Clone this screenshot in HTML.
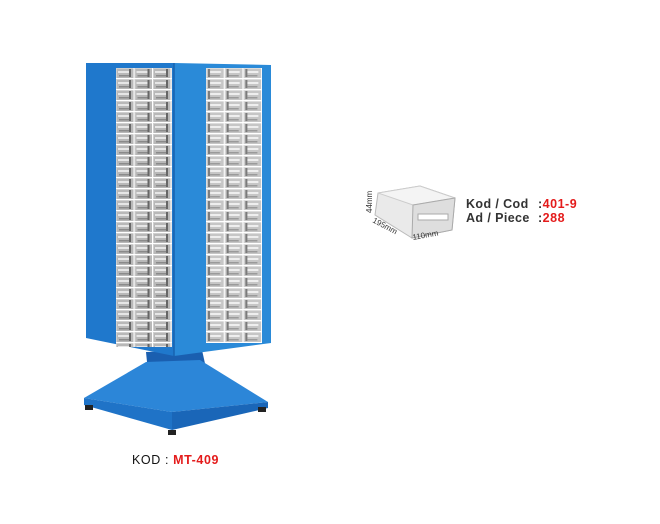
<!DOCTYPE html>
<html><head><style>
html,body{margin:0;padding:0;background:#fff;width:660px;height:524px;overflow:hidden}
.t{font-family:"Liberation Sans",Arial,sans-serif;font-weight:bold;font-size:12.5px}
</style></head><body>
<svg width="660" height="524" viewBox="0 0 660 524" xmlns="http://www.w3.org/2000/svg">
<defs>
<pattern id="dl" x="116" y="68" width="18.5" height="11" patternUnits="userSpaceOnUse">
<rect width="18.5" height="11" fill="#cfcfcf"/>
<rect x="1" y="1" width="16.5" height="9" fill="#b8b8b8"/>
<rect x="2" y="3" width="12" height="2" fill="#e6e6e6"/>
<rect x="13" y="1" width="2" height="8" fill="#666"/>
<rect x="3" y="7" width="10" height="1.5" fill="#8a8a8a"/>
<rect x="0" y="10" width="18.5" height="1" fill="#fff"/>
<rect x="17.5" y="0" width="1" height="11" fill="#fff"/>
</pattern>
<pattern id="dr" x="206" y="68" width="18.7" height="11" patternUnits="userSpaceOnUse">
<rect width="18.7" height="11" fill="#dcdcdc"/>
<rect x="1" y="1" width="16.7" height="9" fill="#c6c6c6"/>
<rect x="3" y="3" width="12" height="2" fill="#eeeeee"/>
<rect x="2" y="1" width="2" height="8" fill="#7a7a7a"/>
<rect x="4" y="7" width="10" height="1.5" fill="#9a9a9a"/>
<rect x="0" y="10" width="18.7" height="1" fill="#fff"/>
<rect x="17.7" y="0" width="1" height="11" fill="#fff"/>
</pattern>
</defs>
<!-- base -->
<polygon points="146,352 202,350 206,368 148,372" fill="#1a5fb0"/>
<polygon points="146,362 84,398 172,412 268,402 200,360" fill="#2c86d8"/>
<polygon points="84,398 172,412 172,430 84,405" fill="#1f73c7"/>
<polygon points="172,412 268,402 268,408 172,430" fill="#1a66b8"/>
<rect x="85" y="405" width="8" height="5" fill="#222"/>
<rect x="258" y="407" width="8" height="5" fill="#222"/>
<rect x="168" y="430" width="8" height="5" fill="#222"/>
<!-- cabinet -->
<polygon points="86,63 174,63 174,356 86,338" fill="#1f78cc"/>
<polygon points="174,63 271,65 271,343 174,356" fill="#2a8ad8"/>
<line x1="174" y1="63" x2="174" y2="356" stroke="#1763b0" stroke-width="1.5"/>
<rect x="116" y="68" width="56" height="279" fill="url(#dl)"/>
<rect x="206" y="68" width="56" height="275" fill="url(#dr)"/>
<!-- drawer -->
<polygon points="378,193 420,186 455,198 452,230 412,238 375,215" fill="#eaeaea" stroke="#bbb"/>
<polygon points="378,193 420,186 455,198 413,205" fill="#f4f4f4" stroke="#ccc"/>
<polygon points="413,205 455,198 452,230 412,238" fill="#dedede" stroke="#aaa"/>
<rect x="418" y="214" width="30" height="6" fill="#fff" stroke="#aaa"/>
<text x="372" y="213" class="t" style="font-size:8px;font-weight:normal" fill="#333" transform="rotate(-90 372 213)">44mm</text>
<text x="372" y="222" class="t" style="font-size:8px;font-weight:normal" fill="#333" transform="rotate(28 372 222)">195mm</text>
<text x="413" y="240" class="t" style="font-size:8px;font-weight:normal" fill="#333" transform="rotate(-10 413 240)">110mm</text>
<text x="466" y="208" class="t" fill="#333" letter-spacing="0.4">Kod / Cod</text>
<text x="538" y="208" class="t" fill="#333" letter-spacing="0.5">:<tspan fill="#e41b1b">401-9</tspan></text>
<text x="466" y="222" class="t" fill="#333" letter-spacing="0.4">Ad / Piece</text>
<text x="538" y="222" class="t" fill="#333" letter-spacing="0.5">:<tspan fill="#e41b1b">288</tspan></text>
<text x="132" y="464" class="t" style="font-weight:normal" fill="#111" letter-spacing="0.6">KOD : <tspan fill="#e41b1b" font-weight="bold">MT-409</tspan></text>
</svg>
</body></html>
